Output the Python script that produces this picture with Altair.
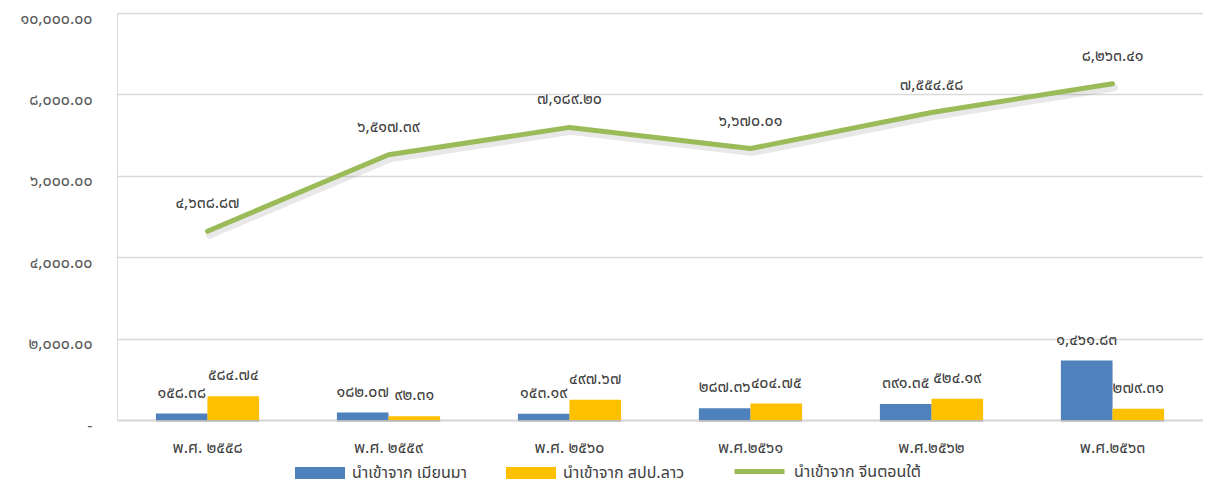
import altair as alt
import pandas as pd

years = ["พ.ศ. ๒๕๕๘", "พ.ศ. ๒๕๕๙", "พ.ศ. ๒๕๖๐", "พ.ศ.๒๕๖๑", "พ.ศ.๒๕๖๒", "พ.ศ.๒๕๖๓"]
myanmar = [158.38, 182.07, 153.19, 287.36, 391.35, 1461.83]
laos = [584.74, 92.31, 497.67, 404.75, 524.19, 279.31]
china = [4638.87, 6517.39, 7189.20, 6670.01, 7554.58, 8263.41]
series_names = ["นำเข้าจาก เมียนมา", "นำเข้าจาก สปป.ลาว", "นำเข้าจาก จีนตอนใต้"]
colors = ["#4F81BD", "#FFC000", "#9BBB59"]
y_ticks = [0, 2000, 4000, 6000, 8000, 10000]

THAI = str.maketrans("0123456789", "๐๑๒๓๔๕๖๗๘๙")


def thai(v):
    return f"{v:,.2f}".translate(THAI)


y_labels = ["-" if t == 0 else thai(t) for t in y_ticks]
label_expr = "[" + ",".join("'%s'" % s for s in y_labels) + "][round(datum.value/2000)]"

rows = []
for i, yr in enumerate(years):
    rows.append({"year": yr, "series": series_names[0], "value": myanmar[i], "label": thai(myanmar[i])})
    rows.append({"year": yr, "series": series_names[1], "value": laos[i], "label": thai(laos[i])})
    rows.append({"year": yr, "series": series_names[2], "value": china[i], "label": thai(china[i])})
df = pd.DataFrame(rows)

FONT = "Tahoma, 'Leelawadee UI', 'Noto Sans Thai', 'Noto Sans', sans-serif"

xenc = alt.X("year:N", sort=years,
             scale=alt.Scale(paddingInner=0.43, paddingOuter=0.215),
             axis=alt.Axis(title=None, labelAngle=0, ticks=False, domain=True,
                           domainColor="#d9d9d9", domainWidth=2,
                           labelFontSize=16, labelColor="#404040", labelPadding=19,
                           labelFont=FONT))
yenc = alt.Y("value:Q", scale=alt.Scale(domain=[0, 10000]),
             axis=alt.Axis(title=None, values=y_ticks, labelExpr=label_expr,
                           ticks=False, domain=False, grid=True, gridColor="#d9d9d9",
                           gridWidth=1.5, labelFontSize=16, labelColor="#595959",
                           labelPadding=25, labelOffset=5, labelFont=FONT))

bar_legend = alt.Legend(
    title=None, orient="none", legendX=178, legendY=435, direction="horizontal",
    symbolType="M-1,-0.24H1V0.24H-1Z", symbolSize=2500, symbolStrokeWidth=0,
    labelFontSize=16, labelColor="#404040", labelFont=FONT, columnPadding=38,
    labelOffset=7,
)
line_legend = alt.Legend(
    title=None, orient="none", legendX=615, legendY=431, direction="horizontal",
    symbolType="stroke", symbolSize=2500, symbolStrokeWidth=5,
    labelFontSize=16, labelColor="#404040", labelFont=FONT, labelOffset=7,
)
color = alt.Color("series:N", scale=alt.Scale(domain=series_names[:2], range=colors[:2]), legend=bar_legend)
stroke = alt.Stroke("series:N", scale=alt.Scale(domain=series_names[2:], range=colors[2:]), legend=line_legend)

base = alt.Chart(df)
bar_df = alt.datum.series != series_names[2]
line_df = alt.datum.series == series_names[2]
xoff = alt.XOffset("series:N", scale=alt.Scale(domain=series_names[:2], paddingInner=0, paddingOuter=0))

bar_shadow = base.transform_filter(bar_df).mark_bar(color="#000000", opacity=0.15, xOffset=3, yOffset=2).encode(
    x=xenc, xOffset=xoff, y=yenc)
bars = base.transform_filter(bar_df).mark_bar().encode(x=xenc, xOffset=xoff, y=yenc, color=color)
bar_text = base.transform_filter(bar_df).mark_text(dy=-21, fontSize=16, color="#404040", font=FONT).encode(
    x=xenc, xOffset=xoff, y=yenc, text="label:N")

line_shadow = base.transform_filter(line_df).mark_line(color="#000000", opacity=0.09, strokeWidth=7,
                                                       xOffset=2, yOffset=4, strokeCap="round").encode(x=xenc, y=yenc)
line = base.transform_filter(line_df).mark_line(strokeWidth=5, strokeCap="round", strokeJoin="round").encode(
    x=xenc, y=yenc, stroke=stroke)
line_text = base.transform_filter(line_df).mark_text(dy=-28, fontSize=16, color="#404040", font=FONT).encode(
    x=xenc, y=yenc, text="label:N")

chart = alt.layer(bar_shadow, bars, bar_text, line_shadow, line, line_text).properties(
    width=1086, height=407,
    autosize=alt.AutoSizeParams(type="none"),
    padding={"left": 109, "top": 5, "right": 0, "bottom": 64},
).configure_view(stroke=None).configure(font=FONT)

chart.save("out.html", embed_options={"renderer": "svg", "actions": False})
